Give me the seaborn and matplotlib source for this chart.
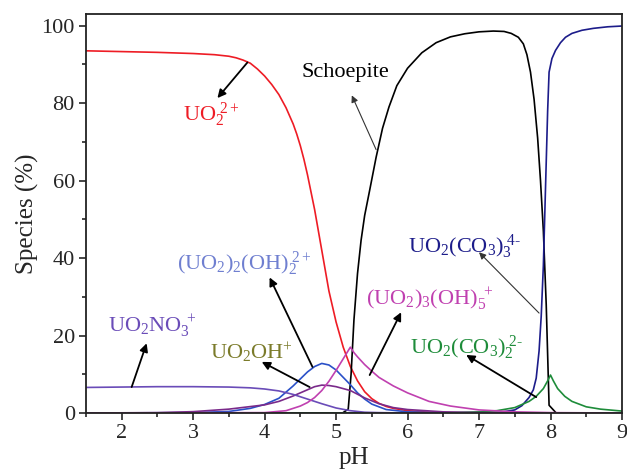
import numpy as np
import pandas as pd
import matplotlib
matplotlib.use("Agg")
import matplotlib.pyplot as plt
import seaborn as sns

# speciation curves (pH, %)
ph_uo2 = [1.5, 2.0, 2.5, 3.0, 3.3, 3.5, 3.6, 3.7, 3.8, 3.9, 4.0, 4.1, 4.2, 4.3, 4.4, 4.45, 4.5, 4.55, 4.6, 4.7,
          4.8, 4.9, 5.0, 5.1, 5.2, 5.3, 5.4, 5.5, 5.6, 5.7, 5.8, 6.0, 6.3, 6.7, 7.0, 9.0]
val_uo2 = [93.5, 93.3, 93.1, 92.8, 92.5, 92.1, 91.7, 91.1, 90.3, 88.8, 87.0, 84.8, 82.2, 78.8, 74.6, 72.0, 69.0,
           65.5, 61.5, 52.5, 42.0, 31.5, 23.5, 17.0, 12.0, 8.3, 5.5, 3.7, 2.5, 1.7, 1.2, 0.6, 0.2, 0.05, 0.0, 0.0]

ph_sch = [1.5, 5.09, 5.17, 5.21, 5.25, 5.3, 5.35, 5.4, 5.47, 5.56, 5.65, 5.74, 5.85, 6.0, 6.2, 6.4, 6.6, 6.8,
          7.0, 7.2, 7.35, 7.45, 7.55, 7.62, 7.67, 7.72, 7.77, 7.82, 7.86, 7.9, 7.94, 7.98, 8.08, 9.0]
val_sch = [0.0, 0.0, 1.0, 10.0, 24.0, 36.0, 44.6, 51.0, 57.5, 66.0, 73.5, 79.0, 84.5, 89.0, 93.0, 95.6, 97.1,
           97.9, 98.4, 98.6, 98.5, 98.0, 97.0, 95.3, 92.5, 88.0, 81.0, 71.0, 60.0, 47.0, 28.0, 2.0, 0.0, 0.0]

ph_tri = [1.5, 7.0, 7.3, 7.5, 7.6, 7.7, 7.76, 7.8, 7.84, 7.87, 7.9, 7.93, 7.96, 7.98, 8.02, 8.07, 8.14,
          8.21, 8.3, 8.44, 8.6, 8.8, 9.0]
val_tri = [0.0, 0.0, 0.2, 0.8, 1.9, 4.0, 6.0, 9.0, 16.0, 25.0, 38.0, 58.0, 78.0, 88.0, 91.5, 93.6, 95.6,
           97.0, 98.0, 98.8, 99.3, 99.7, 99.9]

ph_di = [1.5, 6.5, 7.0, 7.25, 7.5, 7.7, 7.8, 7.9, 7.96, 8.0, 8.04, 8.1, 8.2, 8.3, 8.5, 8.7, 9.0]
val_di = [0.0, 0.05, 0.3, 0.6, 1.4, 3.0, 4.3, 6.3, 8.3, 9.8, 8.3, 6.3, 4.3, 3.0, 1.6, 1.0, 0.5]

ph_dimer = [1.5, 3.0, 3.5, 3.8, 4.0, 4.2, 4.4, 4.5, 4.6, 4.7, 4.8, 4.9, 5.0, 5.1, 5.2, 5.3, 5.4, 5.5, 5.7, 6.0,
            6.5, 7.0, 9.0]
val_dimer = [0.0, 0.1, 0.4, 1.2, 2.2, 3.8, 7.0, 8.8, 10.6, 12.0, 12.8, 12.4, 11.1, 9.2, 7.3, 5.2, 3.6, 2.3, 0.9,
             0.3, 0.05, 0.0, 0.0]

ph_oh = [1.5, 2.5, 3.0, 3.5, 4.0, 4.2, 4.4, 4.6, 4.7, 4.8, 4.9, 5.0, 5.2, 5.4, 5.6, 5.8, 6.0, 6.5, 7.0, 7.5, 9.0]
val_oh = [0.0, 0.1, 0.35, 1.0, 2.1, 3.0, 4.4, 6.0, 6.8, 7.2, 7.1, 6.8, 5.8, 3.9, 2.4, 1.4, 0.9, 0.3, 0.1, 0.0, 0.0]

ph_no3 = [1.5, 2.0, 2.5, 3.0, 3.5, 3.8, 4.0, 4.2, 4.4, 4.6, 4.8, 5.0, 5.2, 5.4, 5.6, 6.0, 9.0]
val_no3 = [6.6, 6.7, 6.8, 6.8, 6.7, 6.5, 6.2, 5.7, 4.8, 3.6, 2.4, 1.3, 0.6, 0.2, 0.1, 0.0, 0.0]

ph_tri_oh = [1.5, 4.0, 4.3, 4.5, 4.6, 4.7, 4.8, 4.9, 5.0, 5.1, 5.2, 5.25, 5.3, 5.4, 5.5, 5.6, 5.8, 6.0, 6.3,
             6.6, 7.0, 7.5, 8.0, 9.0]
val_tri_oh = [0.0, 0.1, 0.6, 1.8, 2.7, 4.0, 5.8, 8.2, 11.0, 14.0, 17.0, 15.6, 14.5, 12.5, 10.8, 9.2, 7.0, 5.2,
              3.0, 1.8, 0.8, 0.3, 0.1, 0.0]

colors = {"uo2": "#ee1c25", "sch": "#000000", "tri": "#1c1c8a", "di": "#1e8c3a",
          "dimer": "#2a50c8", "oh": "#7a2a8a", "no3": "#6a4cb8", "trioh": "#c040b0"}

frames = []
for name, xs, ys in [("uo2", ph_uo2, val_uo2), ("sch", ph_sch, val_sch), ("tri", ph_tri, val_tri),
                     ("di", ph_di, val_di), ("dimer", ph_dimer, val_dimer), ("oh", ph_oh, val_oh),
                     ("no3", ph_no3, val_no3), ("trioh", ph_tri_oh, val_tri_oh)]:
    frames.append(pd.DataFrame({"pH": xs, "val": ys, "sp": name}))
df = pd.concat(frames, ignore_index=True)

sns.set_style("ticks")
plt.rcParams["font.family"] = ["Liberation Serif", "DejaVu Serif"]
plt.rcParams["mathtext.fontset"] = "custom"
plt.rcParams["mathtext.rm"] = "Liberation Serif"
plt.rcParams["mathtext.it"] = "Liberation Serif:italic"

fig = plt.figure(figsize=(6.27, 4.75), dpi=100)
ax = fig.add_axes([0.137, 0.1305, 0.855, 0.84])

sns.lineplot(data=df, x="pH", y="val", hue="sp", palette=colors, estimator=None,
             sort=False, lw=1.2, legend=False, ax=ax)

ax.set_xlim(1.5, 9)
ax.set_ylim(0, 103)
ax.set_xticks([2, 3, 4, 5, 6, 7, 8, 9])
ax.set_xticks(np.arange(1.5, 9.01, 0.5), minor=True)
ax.set_yticks([0, 20, 40, 60, 80, 100])
ax.set_yticks(np.arange(0, 101, 10), minor=True)
ax.tick_params(which="both", direction="out", labelsize=16, width=1.2, pad=3)
ax.tick_params(which="major", length=5)
ax.tick_params(which="minor", length=3)
for s in ax.spines.values():
    s.set_linewidth(1.3)
    s.set_color("#222222")
ax.set_xlabel("pH", fontsize=18, labelpad=3)
ax.set_ylabel("Species (%)", fontsize=18, labelpad=2)

thick = dict(arrowstyle="-|>", color="black", lw=1.3, mutation_scale=12, shrinkA=0, shrinkB=0)
thin = dict(arrowstyle="-|>", color="#333333", lw=0.8, mutation_scale=10, shrinkA=0, shrinkB=0)
fs = 16

ax.annotate("", xy=(3.34, 81.3), xytext=(3.76, 90.5), arrowprops=thick)
ax.text(2.86, 77, r"$\mathrm{UO_2^{\ 2+}}$", color="#ee1c25", fontsize=fs, ha="left", va="center")

ax.annotate("", xy=(5.22, 82), xytext=(5.56, 68), arrowprops=thin)
ax.text(4.52, 88, "Schoepite", color="black", fontsize=fs, ha="left", va="center")

ax.annotate("", xy=(4.07, 35), xytext=(4.67, 11.9), arrowprops=thick)
ax.text(2.78, 38.5, r"$\mathrm{(UO_2)_2(OH)_2^{\ 2+}}$", color="#6f7fd0", fontsize=fs, ha="left", va="center")

ax.annotate("", xy=(2.35, 18), xytext=(2.14, 6.7), arrowprops=thick)
ax.text(1.81, 22.5, r"$\mathrm{UO_2NO_3^{\ +}}$", color="#6a4cb8", fontsize=fs, ha="left", va="center")

ax.annotate("", xy=(3.96, 13.2), xytext=(4.63, 6.7), arrowprops=thick)
ax.text(3.23, 15.5, r"$\mathrm{UO_2OH^{+}}$", color="#7b7b2a", fontsize=fs, ha="left", va="center")

ax.annotate("", xy=(5.91, 26), xytext=(5.47, 9.8), arrowprops=thick)
ax.text(5.42, 29.5, r"$\mathrm{(UO_2)_3(OH)_5^{\ +}}$", color="#c040b0", fontsize=fs, ha="left", va="center")

ax.annotate("", xy=(7.0, 41.5), xytext=(7.84, 25.8), arrowprops=thin)
ax.text(6.0, 43, r"$\mathrm{UO_2(CO_3)_3^{\ 4\text{-}}}$", color="#1c1c8a", fontsize=fs, ha="left", va="center")

ax.annotate("", xy=(6.82, 15), xytext=(7.8, 4.1), arrowprops=thick)
ax.text(6.03, 17, r"$\mathrm{UO_2(CO_3)_2^{\ 2\text{-}}}$", color="#1e8c3a", fontsize=fs, ha="left", va="center")

fig.savefig("out.png", dpi=100)
